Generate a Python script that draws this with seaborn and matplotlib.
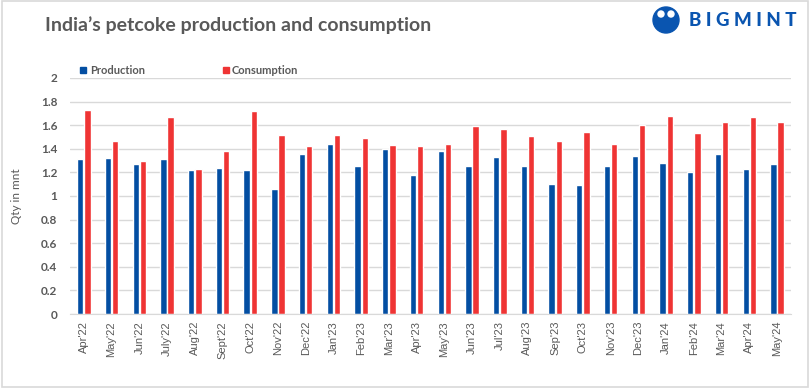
import matplotlib
matplotlib.use("Agg")
import matplotlib.pyplot as plt
from matplotlib.patches import Rectangle, Ellipse
from matplotlib.ticker import FuncFormatter
import seaborn as sns
import pandas as pd

months = ["Apr'22", "May'22", "Jun'22", "July'22", "Aug'22", "Sept'22", "Oct'22",
          "Nov'22", "Dec'22", "Jan'23", "Feb'23", "Mar'23", "Apr'23", "May'23",
          "Jun'23", "Jul'23", "Aug'23", "Sep'23", "Oct'23", "Nov'23", "Dec'23",
          "Jan'24", "Feb'24", "Mar'24", "Apr'24", "May'24"]
production = [1.31, 1.32, 1.27, 1.31, 1.22, 1.24, 1.22, 1.06, 1.36, 1.44, 1.25, 1.40,
              1.18, 1.38, 1.25, 1.33, 1.25, 1.10, 1.09, 1.25, 1.34, 1.28, 1.20, 1.36,
              1.23, 1.27]
consumption = [1.73, 1.47, 1.30, 1.67, 1.23, 1.38, 1.72, 1.52, 1.42, 1.52, 1.49, 1.43,
               1.42, 1.44, 1.59, 1.57, 1.51, 1.47, 1.54, 1.44, 1.60, 1.68, 1.53, 1.63,
               1.67, 1.63]

df = pd.DataFrame({
    "month": months * 2,
    "value": production + consumption,
    "series": ["Production"] * len(months) + ["Consumption"] * len(months),
})

sns.set_style("white")
plt.rcParams["font.family"] = ["Lato", "DejaVu Sans"]

grey = "#595959"
blue = "#034ea2"
red = "#ef3434"

fig = plt.figure(figsize=(8.1, 3.88), dpi=100)
ax = fig.add_axes([0.0864, 0.1907, 0.890, 0.6083])

sns.barplot(data=df, x="month", y="value", hue="series",
            palette={"Production": blue, "Consumption": red}, saturation=1,
            width=0.52, gap=0.12, ax=ax, legend=False)

ax.set_ylim(0, 2)
ax.set_xlim(-0.5, len(months) - 0.5)
ax.set_yticks([i * 0.2 for i in range(11)])
ax.yaxis.set_major_formatter(FuncFormatter(lambda v, p: f"{v:.1f}".rstrip("0").rstrip(".")))
ax.grid(axis="y", color="#d9d9d9", linewidth=1)
ax.set_axisbelow(True)
for s in ["top", "right", "left"]:
    ax.spines[s].set_visible(False)
ax.spines["bottom"].set_color("#d9d9d9")
ax.tick_params(axis="y", length=0, pad=9, labelsize=8.5, labelcolor=grey)
ax.tick_params(axis="x", length=0, pad=5, labelsize=8, labelcolor=grey)
for lab in ax.get_yticklabels():
    lab.set_fontweight("bold")
for lab in ax.get_xticklabels():
    lab.set_rotation(90)
    lab.set_fontfamily("Liberation Sans")
ax.set_xlabel("")
ax.set_ylabel("Qty in mnt", color=grey, fontsize=8.5, labelpad=14)

# title
fig.text(0.055, 0.935, "India\u2019s petcoke production and consumption",
         fontsize=14, fontweight="bold", color=grey, va="center", ha="left")

# legend
fig.patches.append(Rectangle((80 / 810, 1 - 73 / 388), 6 / 810, 6 / 388,
                             transform=fig.transFigure, color=blue))
fig.text(90 / 810, 1 - 70 / 388, "Production", fontsize=8, fontweight="bold",
         color=grey, va="center")
fig.patches.append(Rectangle((223 / 810, 1 - 73 / 388), 6 / 810, 6 / 388,
                             transform=fig.transFigure, color=red))
fig.text(232 / 810, 1 - 70 / 388, "Consumption", fontsize=8, fontweight="bold",
         color=grey, va="center")

# logo
logo = "#0a55b0"
fig.patches.append(Ellipse((666 / 810, 1 - 20 / 388), 26 / 810, 26 / 388,
                           transform=fig.transFigure, color=logo))
fig.patches.append(Ellipse((661 / 810, 1 - 14 / 388), 6 / 810, 6 / 388,
                           transform=fig.transFigure, color="white"))
fig.patches.append(Ellipse((671 / 810, 1 - 14 / 388), 6 / 810, 6 / 388,
                           transform=fig.transFigure, color="white"))
fig.text(689 / 810, 1 - 20 / 388, "B I G M I N T", fontsize=13.5, fontweight="black",
         color=logo, va="center")

# border
fig.patches.append(Rectangle((0.002, 0.003), 0.995, 0.994, transform=fig.transFigure,
                             fill=False, edgecolor="#d9d9d9", linewidth=1.2))

fig.savefig("out.png", dpi=100)
